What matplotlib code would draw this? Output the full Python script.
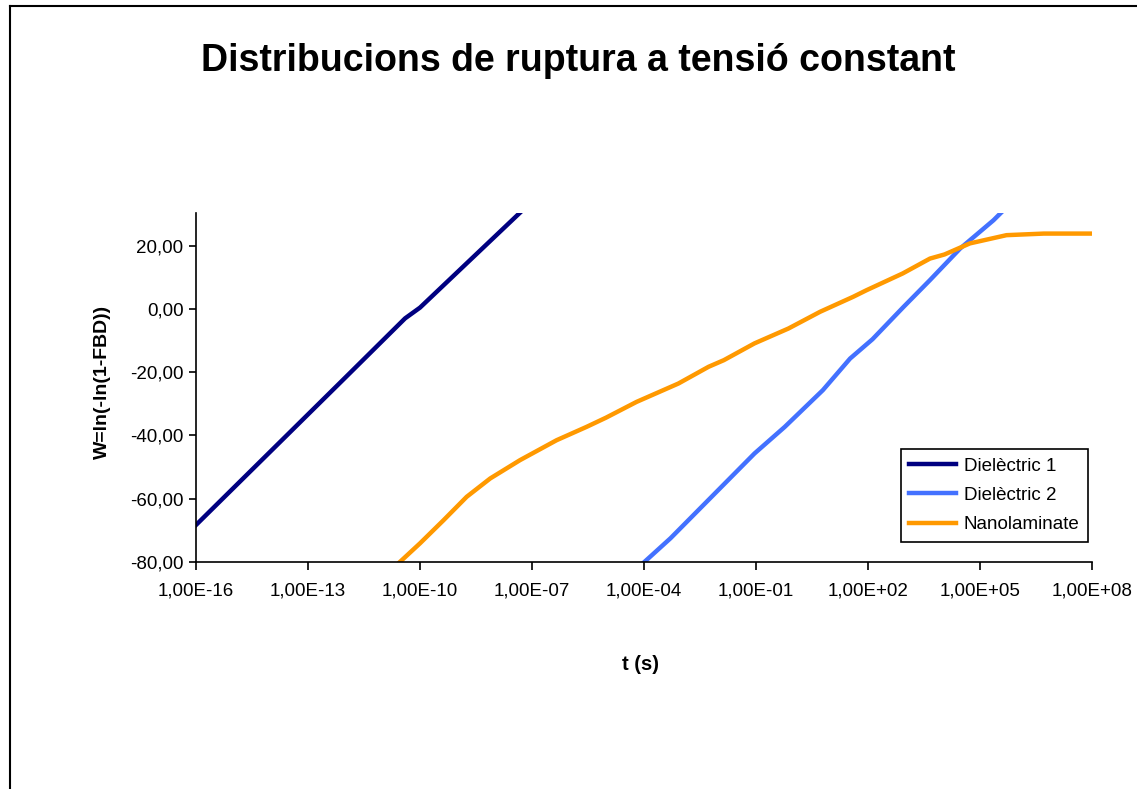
import matplotlib
matplotlib.use("Agg")
import matplotlib.pyplot as plt
from matplotlib.lines import Line2D
import numpy as np

plt.rcParams['font.family'] = ['Liberation Sans', 'DejaVu Sans']

# data (exponent of t, W value)
d1_logt = [-16.0, -14.0, -12.0, -10.4, -10.0, -9.0, -8.0, -7.0]
d1_w = [-68.3, -45.0, -21.7, -3.0, 0.4, 11.6, 22.8, 34.0]

d2_logt = [-4.0, -3.29, -1.04, -0.23, 0.79, 1.52, 2.12, 2.95, 3.66, 4.47, 5.36, 6.0]
d2_w = [-80.1, -72.5, -45.7, -37.3, -25.7, -15.7, -9.6, 0.6, 9.1, 19.1, 28.0, 35.5]

nl_logt = [-10.54, -10.0, -9.37, -8.75, -8.12, -7.32, -6.34, -5.54, -5.02,
           -4.2, -3.08, -2.27, -1.86, -1.04, -0.13, 0.72, 1.60, 1.96, 2.93,
           3.66, 4.05, 4.73, 5.71, 6.71, 8.0]
nl_w = [-80.0, -74.1, -66.8, -59.4, -53.6, -47.8, -41.5, -37.3, -34.4,
        -29.4, -23.6, -18.3, -16.2, -10.9, -6.2, -0.9, 3.8, 5.9, 11.2,
        15.9, 17.2, 20.7, 23.3, 23.8, 23.8]

x_tick_exp = [-16, -13, -10, -7, -4, -1, 2, 5, 8]
x_tick_labels = ["1,00E-16", "1,00E-13", "1,00E-10", "1,00E-07", "1,00E-04",
                 "1,00E-01", "1,00E+02", "1,00E+05", "1,00E+08"]
y_ticks = [-80, -60, -40, -20, 0, 20]
y_tick_labels = ["-80,00", "-60,00", "-40,00", "-20,00", "0,00", "20,00"]

fig = plt.figure(figsize=(11.37, 7.89), dpi=100)
ax = fig.add_axes([196/1137, 1 - 562/789, (1092-196)/1137, (562-212.7)/789])

ax.plot(10.0 ** np.array(d1_logt), d1_w, color='#000080', lw=3.2, label='Dielèctric 1')
ax.plot(10.0 ** np.array(d2_logt), d2_w, color='#4371FF', lw=3.2, label='Dielèctric 2')
ax.plot(10.0 ** np.array(nl_logt), nl_w, color='#FF9900', lw=3.2, label='Nanolaminate')

ax.set_xscale('log')
ax.set_xlim(1e-16, 1e8)
ax.set_ylim(-80, 30.4)
ax.set_xticks([10.0 ** e for e in x_tick_exp])
ax.set_xticklabels(x_tick_labels)
ax.xaxis.set_minor_locator(matplotlib.ticker.NullLocator())
ax.set_yticks(y_ticks)
ax.set_yticklabels(y_tick_labels)

for s in ['top', 'right']:
    ax.spines[s].set_visible(False)
for s in ['left', 'bottom']:
    ax.spines[s].set_linewidth(1.2)
ax.tick_params(axis='x', direction='out', length=6, width=1.2, labelsize=13.5, pad=9)
ax.tick_params(axis='y', direction='out', length=5, width=1.2, labelsize=13.5, pad=4)

fig.text(102/1137, 1 - 382/789, 'W=ln(-ln(1-FBD))', rotation=90, fontsize=14,
         fontweight='bold', ha='center', va='center')
fig.text(641/1137, 1 - 664/789, 't (s)', fontsize=14.5, fontweight='bold',
         ha='center', va='center')
fig.text(578/1137, 1 - 71/789, 'Distribucions de ruptura a tensió constant',
         fontsize=27, fontweight='bold', ha='center', va='baseline')

leg = ax.legend(loc='upper left', bbox_to_anchor=(901/1137, 1 - 449/789),
                bbox_transform=fig.transFigure, fontsize=13.5, frameon=True,
                fancybox=False, edgecolor='black', framealpha=1,
                handlelength=2.5, handletextpad=0.4, borderpad=0.45,
                labelspacing=0.65, borderaxespad=0)
leg.get_frame().set_linewidth(1.2)

# chart border (left and top edges visible)
fig.add_artist(Line2D([10/1137, 10/1137], [0, 1 - 6/789], color='black', lw=1.5,
                      transform=fig.transFigure))
fig.add_artist(Line2D([10/1137, 1], [1 - 6/789, 1 - 6/789], color='black', lw=1.5,
                      transform=fig.transFigure))

fig.savefig('out.png', dpi=100)
